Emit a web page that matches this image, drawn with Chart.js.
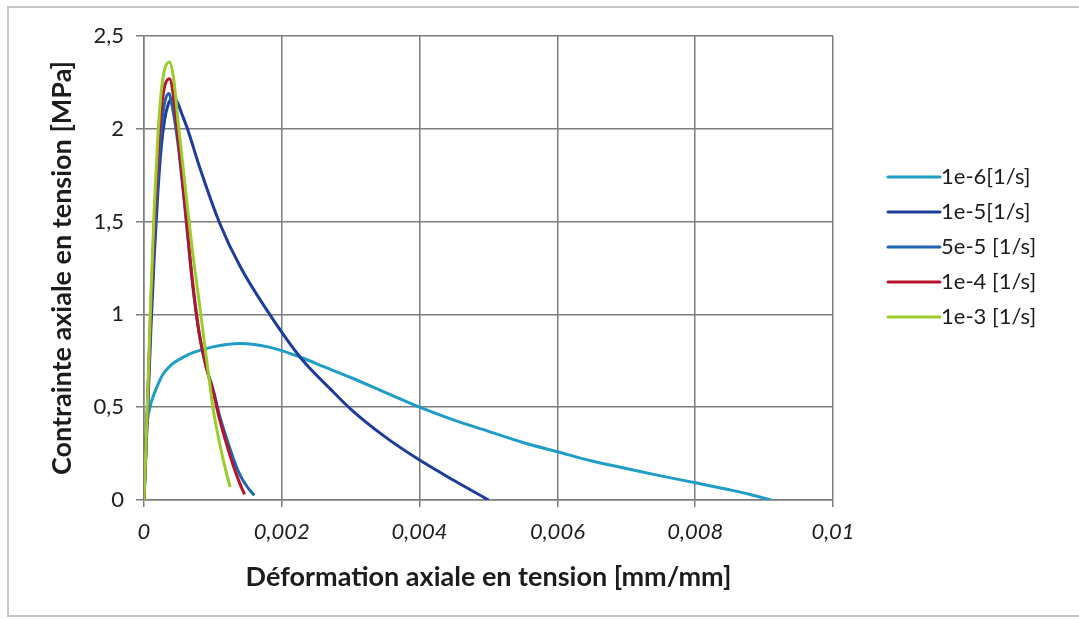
<!DOCTYPE html>
<html>
<head>
<meta charset="utf-8">
<script src="https://cdn.jsdelivr.net/npm/chart.js@4.4.1/dist/chart.umd.min.js"></script>
<style>
  html, body { margin: 0; padding: 0; background: #fff; }
  #wrap { position: relative; width: 1079px; height: 620px; }
  #frame { position: absolute; left: 7px; top: 6px; width: 1072px; height: 611px; border: 2px solid #c6c6c6; border-right: none; box-sizing: border-box; }
  canvas { position: absolute; left: 0; top: 0; }
</style>
</head>
<body>
<div id="wrap">
  <div id="frame"></div>
  <canvas id="stressChart" width="1079" height="620"></canvas>
</div>
<script>
  // Tensile stress-strain curves for five strain rates
  const seriesLabels = ['1e-6[1/s]', '1e-5[1/s]', '5e-5 [1/s]', '1e-4 [1/s]', '1e-3 [1/s]'];
  const seriesColors = ['#1f9dc6', '#1e3c9e', '#1f63b2', '#b5142c', '#9ccb2c'];

  const strain1e6 = [0, 0.00002, 0.00005, 0.0001, 0.0002, 0.00028, 0.0004, 0.0005, 0.00065, 0.0008, 0.001, 0.0012, 0.0014, 0.0016, 0.0018, 0.002, 0.0023, 0.0026, 0.003, 0.0035, 0.004, 0.0045, 0.005, 0.0055, 0.006, 0.0065, 0.007, 0.0075, 0.008, 0.0085, 0.0088, 0.0091];
  const stress1e6 = [0, 0.3, 0.43, 0.52, 0.62, 0.68, 0.73, 0.755, 0.785, 0.805, 0.825, 0.838, 0.843, 0.838, 0.825, 0.805, 0.765, 0.72, 0.66, 0.58, 0.5, 0.43, 0.37, 0.31, 0.26, 0.21, 0.17, 0.13, 0.093, 0.055, 0.03, 0];

  const strain1e5 = [0, 0.00005, 0.0001, 0.00015, 0.0002, 0.00025, 0.0003, 0.00035, 0.0004, 0.00045, 0.0005, 0.00055, 0.00064, 0.00081, 0.0011, 0.0014, 0.00186, 0.0023, 0.0027, 0.003, 0.0035, 0.004, 0.0045, 0.005];
  const stress1e5 = [0, 0.45, 0.92, 1.32, 1.65, 1.9, 2.05, 2.13, 2.16, 2.16, 2.13, 2.08, 1.99, 1.79, 1.49, 1.255, 0.98, 0.754, 0.6, 0.49, 0.34, 0.215, 0.105, 0];

  const strain5e5 = [0, 0.00005, 0.0001, 0.00015, 0.0002, 0.00025, 0.0003, 0.00036, 0.00042, 0.0005, 0.0006, 0.0007, 0.0008, 0.0009, 0.001, 0.0011, 0.0012, 0.0013, 0.0014, 0.0015, 0.0016];
  const stress5e5 = [0, 0.5, 1.0, 1.4, 1.75, 2.0, 2.14, 2.19, 2.1, 1.9, 1.55, 1.18, 0.9, 0.72, 0.6, 0.45, 0.33, 0.22, 0.13, 0.07, 0.025];

  const strain1e4 = [0, 0.00005, 0.0001, 0.00015, 0.0002, 0.00025, 0.0003, 0.00037, 0.00043, 0.0005, 0.0006, 0.0007, 0.0008, 0.0009, 0.001, 0.0011, 0.0012, 0.0013, 0.0014, 0.00146];
  const stress1e4 = [0, 0.5, 1.05, 1.5, 1.85, 2.1, 2.23, 2.27, 2.17, 1.93, 1.57, 1.19, 0.9, 0.72, 0.59, 0.43, 0.3, 0.18, 0.08, 0.03];

  const strain1e3 = [0, 0.00005, 0.0001, 0.00015, 0.0002, 0.00025, 0.0003, 0.00037, 0.00043, 0.0005, 0.0006, 0.0007, 0.0008, 0.0009, 0.00095, 0.001, 0.0011, 0.0012, 0.00125];
  const stress1e3 = [0, 0.52, 1.1, 1.58, 1.95, 2.2, 2.32, 2.36, 2.27, 2.02, 1.68, 1.35, 1.07, 0.78, 0.64, 0.5, 0.3, 0.14, 0.07];

  const xTickLabels = ['0', '0,002', '0,004', '0,006', '0,008', '0,01'];
  const yTickLabels = ['0', '0,5', '1', '1,5', '2', '2,5'];

  const strains = [strain1e6, strain1e5, strain5e5, strain1e4, strain1e3];
  const stresses = [stress1e6, stress1e5, stress5e5, stress1e4, stress1e3];

  const gridColor = '#7d7d7d';
  const textColor = '#1c1c1c';
  const fontFamily = 'Lato, "Open Sans", sans-serif';

  // first series at the bottom, last series drawn on top
  const datasets = seriesLabels.map((label, i) => ({
    label: label,
    data: strains[i].map((x, j) => ({ x: x, y: stresses[i][j] })),
    borderColor: seriesColors[i],
    backgroundColor: seriesColors[i],
    borderWidth: 3,
    pointRadius: 0,
    fill: false,
    cubicInterpolationMode: 'monotone',
    order: seriesLabels.length - i
  }));

  // legend on the right, a line sample next to each label
  const sideLegend = {
    id: 'sideLegend',
    afterDraw(chart) {
      const ctx = chart.ctx;
      ctx.save();
      ctx.font = '22px ' + fontFamily;
      ctx.textBaseline = 'middle';
      ctx.textAlign = 'left';
      chart.data.datasets.forEach((ds, i) => {
        const y = 177 + i * 35;
        ctx.strokeStyle = ds.borderColor;
        ctx.lineWidth = 3;
        ctx.lineCap = 'round';
        ctx.beginPath();
        ctx.moveTo(888, y);
        ctx.lineTo(940, y);
        ctx.stroke();
        ctx.fillStyle = textColor;
        ctx.fillText(ds.label, 941, y);
      });
      ctx.restore();
    }
  };

  new Chart(document.getElementById('stressChart'), {
    type: 'line',
    data: { datasets: datasets },
    plugins: [sideLegend],
    options: {
      responsive: false,
      animation: false,
      layout: { padding: { top: 36, right: 246, left: 0, bottom: 0 } },
      plugins: {
        legend: { display: false },
        tooltip: { enabled: false }
      },
      scales: {
        x: {
          type: 'linear',
          min: 0,
          max: 0.01,
          afterFit: scale => { scale.height = 120; },
          ticks: {
            stepSize: 0.002,
            padding: 12,
            color: textColor,
            font: { family: fontFamily, size: 22, style: 'italic' },
            callback: (value, index) => xTickLabels[index]
          },
          grid: { color: gridColor, lineWidth: 1.5, tickLength: 7 },
          border: { color: gridColor, width: 1.5 },
          title: {
            display: true,
            text: 'Déformation axiale en tension [mm/mm]',
            color: textColor,
            font: { family: fontFamily, size: 27, weight: 'bold' },
            padding: { top: 0, bottom: 27 }
          }
        },
        y: {
          min: 0,
          max: 2.5,
          afterFit: scale => { scale.width = 144; },
          ticks: {
            stepSize: 0.5,
            padding: 12,
            color: textColor,
            font: { family: fontFamily, size: 22 },
            callback: (value, index) => yTickLabels[index]
          },
          grid: { color: gridColor, lineWidth: 1.5, tickLength: 8 },
          border: { color: gridColor, width: 1.5 },
          title: {
            display: true,
            text: 'Contrainte axiale en tension [MPa]',
            color: textColor,
            font: { family: fontFamily, size: 27, weight: 'bold' },
            padding: { top: 46, bottom: 0 }
          }
        }
      }
    }
  });
</script>
</body>
</html>
